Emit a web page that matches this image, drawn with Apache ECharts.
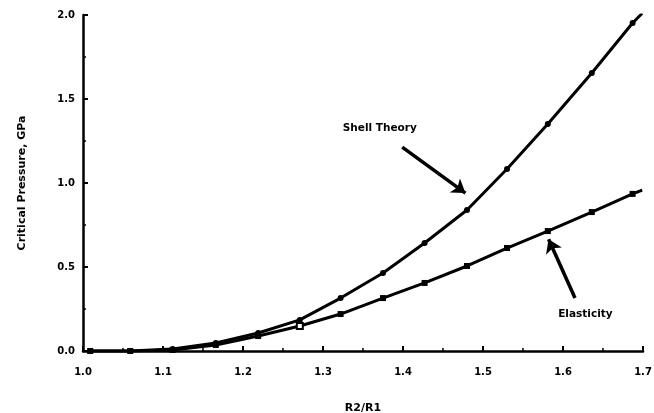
<!DOCTYPE html>
<html><head><meta charset="utf-8">
<script src="https://cdn.jsdelivr.net/npm/echarts@6/dist/echarts.min.js"></script>
<style>html,body{margin:0;padding:0;background:#fff}#c{width:654px;height:413px}</style>
</head><body><div id="c"></div>
<script>
const ratio = [1.009, 1.059, 1.112, 1.166, 1.219, 1.271, 1.322, 1.375, 1.427, 1.48, 1.53, 1.581, 1.636, 1.687, 1.699];
const shellTheory = [0.0, 0.0, 0.012, 0.048, 0.107, 0.185, 0.315, 0.464, 0.643, 0.839, 1.083, 1.351, 1.655, 1.952, 2.01];
const elasticity = [0.0, 0.0, 0.006, 0.036, 0.089, 0.149, 0.22, 0.315, 0.405, 0.506, 0.613, 0.714, 0.827, 0.935, 0.958];
const xTicks = [1.0, 1.1, 1.2, 1.3, 1.4, 1.5, 1.6, 1.7];
const yTicks = [0.0, 0.5, 1.0, 1.5, 2.0];
const shellLabel = {text: 'Shell Theory', at: [1.371, 1.327], arrow: [[1.399, 1.214], [1.478, 0.94]]};
const elasLabel = {text: 'Elasticity', at: [1.628, 0.22], arrow: [[1.615, 0.315], [1.582, 0.665]]};

const font = '"DejaVu Sans", Arial, sans-serif';
function pts(vals, openIdx) {
  return ratio.map((x, i) => {
    const d = {value: [x, vals[i]]};
    if (i === ratio.length - 1) d.symbolSize = 0;
    if (i === openIdx) { d.symbol = 'emptyRect'; d.itemStyle = {borderWidth: 1.5}; }
    return d;
  });
}
const chart = echarts.init(document.getElementById('c'));
const axisCommon = {
  axisLine: {show: true, onZero: false, lineStyle: {color: '#000', width: 2.5}},
  axisTick: {show: true, inside: true, length: 5, lineStyle: {color: '#000', width: 2}},
  minorTick: {show: true, splitNumber: 2, length: 3, lineStyle: {color: '#000', width: 1.5}},
  splitLine: {show: false},
  axisLabel: {color: '#000', fontFamily: font, fontWeight: 'bold', fontSize: 10, formatter: v => v.toFixed(1)},
  nameTextStyle: {color: '#000', fontFamily: font, fontWeight: 'bold', fontSize: 11}
};
function ml(a) {
  return {
    silent: true, symbol: ['none', 'arrow'], symbolSize: 13,
    lineStyle: {color: '#000', width: 3.5, type: 'solid'}, itemStyle: {color: '#000'}, label: {show: false},
    data: [[{coord: a.arrow[0]}, {coord: a.arrow[1]}]]
  };
}
chart.setOption({
  animation: false,
  backgroundColor: '#fff',
  grid: {left: 83, right: 11, top: 15, bottom: 62, outerBoundsMode: 'none', containLabel: false},
  xAxis: Object.assign({}, axisCommon, {
    type: 'value', min: 1.0, max: 1.7, interval: 0.1,
    name: 'R2/R1', nameLocation: 'middle', nameGap: 52,
    axisLabel: Object.assign({}, axisCommon.axisLabel, {margin: 16})
  }),
  yAxis: Object.assign({}, axisCommon, {
    type: 'value', min: 0, max: 2.0, interval: 0.5,
    name: 'Critical Pressure, GPa', nameLocation: 'middle', nameGap: 55,
    axisLabel: Object.assign({}, axisCommon.axisLabel, {margin: 8})
  }),
  series: [
    {
      name: 'Shell Theory', type: 'line', data: pts(shellTheory, -1),
      symbol: 'circle', symbolSize: 6, showAllSymbol: true,
      lineStyle: {color: '#000', width: 3}, itemStyle: {color: '#000'},
      markLine: ml(shellLabel)
    },
    {
      name: 'Elasticity', type: 'line', data: pts(elasticity, 5),
      symbol: 'rect', symbolSize: 6, showAllSymbol: true,
      lineStyle: {color: '#000', width: 3}, itemStyle: {color: '#000'},
      markLine: ml(elasLabel)
    }
  ]
});
const g = [shellLabel, elasLabel].map(l => {
  const p = chart.convertToPixel({gridIndex: 0}, l.at);
  return {type: 'text', x: p[0], y: p[1], style: {text: l.text, fill: '#000', font: 'bold 10.5px ' + font, align: 'center', verticalAlign: 'middle'}};
});
chart.setOption({graphic: g});
</script></body></html>
